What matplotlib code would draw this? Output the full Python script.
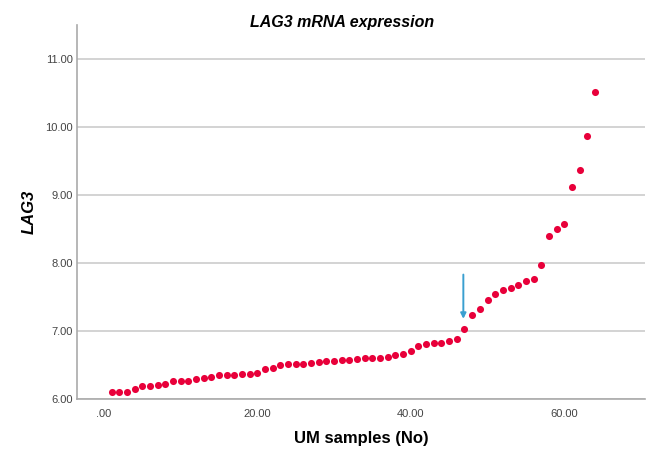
import matplotlib
matplotlib.use("Agg")
from matplotlib import pyplot as plt

plt.rcParams['font.family'] = ['Liberation Sans', 'DejaVu Sans']

# sample number (sorted by expression) and LAG3 expression
samples = list(range(1, 65))
lag3 = [6.10, 6.10, 6.11, 6.15, 6.20, 6.20, 6.21, 6.22, 6.26, 6.27,
        6.27, 6.30, 6.31, 6.32, 6.35, 6.35, 6.36, 6.37, 6.37, 6.38,
        6.45, 6.46, 6.50, 6.51, 6.52, 6.52, 6.53, 6.54, 6.56, 6.56,
        6.57, 6.58, 6.59, 6.60, 6.61, 6.61, 6.62, 6.65, 6.66, 6.71,
        6.78, 6.81, 6.82, 6.83, 6.85, 6.88, 7.03, 7.24, 7.32, 7.46,
        7.55, 7.60, 7.64, 7.68, 7.74, 7.77, 7.97, 8.39, 8.50, 8.58,
        9.11, 9.36, 9.87, 10.52]

x_ticks = [0, 20, 40, 60]
x_tick_labels = ['.00', '20.00', '40.00', '60.00']
y_ticks = [6, 7, 8, 9, 10, 11]
y_tick_labels = ['6.00', '7.00', '8.00', '9.00', '10.00', '11.00']

fig = plt.figure(figsize=(6.48, 4.51), dpi=100)
ax = fig.add_axes([0.119, 0.115, 0.876, 0.83])

ax.scatter(samples, lag3, s=26, color='#e8003a', zorder=3, linewidths=0)

# arrow pointing at the break point
ax.annotate('', xy=(46.85, 7.18), xytext=(46.85, 7.83),
            arrowprops=dict(arrowstyle='-|>', color='#3a9fd0', lw=1.4,
                            mutation_scale=8, shrinkA=0, shrinkB=0))

ax.set_xlim(-3.5, 70.5)
ax.set_ylim(6, 11.5)
ax.set_xticks(x_ticks)
ax.set_xticklabels(x_tick_labels)
ax.set_yticks(y_ticks)
ax.set_yticklabels(y_tick_labels)

ax.yaxis.grid(True, color='#cccccc', lw=1.2)
ax.set_axisbelow(True)
for side in ('top', 'right'):
    ax.spines[side].set_visible(False)
for side in ('left', 'bottom'):
    ax.spines[side].set_color('#aaaaaa')
    ax.spines[side].set_linewidth(1.2)
ax.tick_params(length=0, labelsize=8, colors='#444444')
ax.tick_params(axis='x', pad=7)
ax.tick_params(axis='y', pad=3)

# title sits low, almost on top of the axis
fig.text(0.528, 1 - 22 / 451, 'LAG3 mRNA expression', fontsize=11.5,
         fontweight='bold', style='italic', ha='center', va='center')
ax.set_xlabel('UM samples (No)', fontsize=12, fontweight='bold', labelpad=9)
ax.set_ylabel('LAG3', fontsize=12, fontweight='bold', style='italic',
              labelpad=6)

fig.savefig('out.png', dpi=100)
